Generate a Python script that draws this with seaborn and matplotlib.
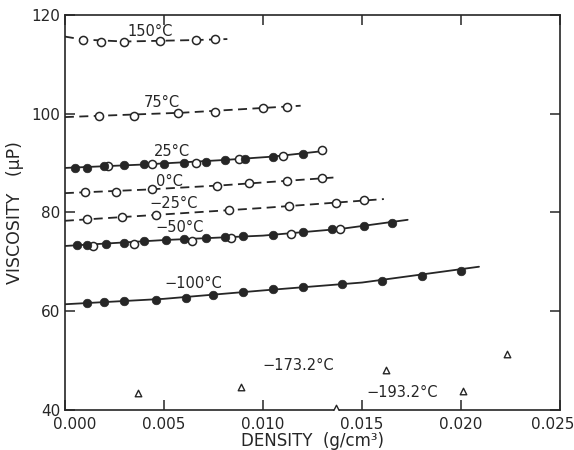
import numpy as np
import pandas as pd
import seaborn as sns
import matplotlib.pyplot as plt
import matplotlib.transforms as mtransforms

# values (density in g/cm3, viscosity in microP)
t150_x = [0.0009, 0.0018, 0.0030, 0.0048, 0.0066, 0.0076]
t150_y = [115.0, 114.6, 114.5, 114.8, 114.9, 115.1]
t150_line_x = [0.0, 0.0009, 0.0030, 0.0066, 0.0082]
t150_line_y = [115.6, 115.0, 114.6, 114.9, 115.1]

t75_x = [0.0017, 0.0035, 0.0057, 0.0076, 0.0100, 0.0112]
t75_y = [99.5, 99.6, 100.1, 100.4, 101.1, 101.4]
t75_line_x = [0.0, 0.0060, 0.0119]
t75_line_y = [99.3, 100.2, 101.6]

t25_filled_x = [0.0005, 0.0011, 0.0020, 0.0030, 0.0040, 0.0050, 0.0060, 0.0071, 0.0081, 0.0091, 0.0105, 0.0120]
t25_filled_y = [89.0, 89.0, 89.4, 89.6, 89.8, 89.9, 90.1, 90.3, 90.6, 90.8, 91.3, 91.8]
t25_open_x = [0.0022, 0.0044, 0.0066, 0.0088, 0.0110, 0.0130]
t25_open_y = [89.4, 89.8, 90.1, 90.8, 91.5, 92.6]
t25_line_x = [0.0, 0.0040, 0.0080, 0.0105, 0.0130]
t25_line_y = [89.0, 89.7, 90.6, 91.3, 92.4]

t0_x = [0.0010, 0.0026, 0.0044, 0.0077, 0.0093, 0.0112, 0.0130]
t0_y = [84.1, 84.2, 84.7, 85.4, 85.9, 86.4, 87.0]
t0_line_x = [0.0, 0.0040, 0.0080, 0.0137]
t0_line_y = [83.9, 84.6, 85.5, 87.1]

tm25_x = [0.0011, 0.0029, 0.0046, 0.0083, 0.0113, 0.0137, 0.0151]
tm25_y = [78.6, 79.0, 79.5, 80.5, 81.2, 82.0, 82.5]
tm25_line_x = [0.0, 0.0050, 0.0100, 0.0161]
tm25_line_y = [78.3, 79.6, 80.9, 82.7]

tm50_filled_x = [0.0006, 0.0011, 0.0021, 0.0030, 0.0040, 0.0051, 0.0060, 0.0071, 0.0081, 0.0090,
                 0.0105, 0.0120, 0.0135, 0.0151, 0.0165]
tm50_filled_y = [73.4, 73.5, 73.7, 73.9, 74.2, 74.5, 74.7, 74.9, 75.1, 75.2,
                 75.4, 76.0, 76.6, 77.2, 77.9]
tm50_open_x = [0.0014, 0.0035, 0.0064, 0.0084, 0.0114, 0.0139]
tm50_open_y = [73.1, 73.7, 74.2, 74.8, 75.6, 76.6]
tm50_line_x = [0.0, 0.0050, 0.0100, 0.0140, 0.0173]
tm50_line_y = [73.2, 74.4, 75.3, 76.7, 78.5]

tm100_x = [0.0011, 0.0020, 0.0030, 0.0046, 0.0061, 0.0075, 0.0090, 0.0105, 0.0120,
           0.0140, 0.0160, 0.0180, 0.0200]
tm100_y = [61.6, 61.8, 62.1, 62.3, 62.7, 63.3, 63.9, 64.4, 64.9,
           65.5, 66.2, 67.2, 68.2]
tm100_line_x = [0.0, 0.0050, 0.0100, 0.0150, 0.0209]
tm100_line_y = [61.4, 62.5, 64.2, 65.8, 69.0]

tm173_x = [0.0037, 0.0089, 0.0162, 0.0223]
tm173_y = [43.5, 44.6, 48.1, 51.3]
tm193_x = [0.0137, 0.0201]
tm193_y = [40.3, 43.8]

labels = ['150°C', '75°C', '25°C', '0°C', '\u221225°C', '\u221250°C', '\u2212100°C', '\u2212173.2°C', '\u2212193.2°C']
label_x = [0.0043, 0.0049, 0.0054, 0.0053, 0.0055, 0.0058, 0.0065, 0.0118, 0.0170]
label_y = [116.6, 102.2, 92.3, 86.3, 81.9, 76.9, 65.7, 49.1, 43.6]

x_ticks = [0.0, 0.005, 0.010, 0.015, 0.020, 0.025]
x_ticklabels = ['0.000', '0.005', '0.010', '0.015', '0.020', '0.025']
y_ticks = [40, 60, 80, 100, 120]

ink = '#262626'

sns.set_style('ticks')
plt.rcParams['font.family'] = ['DejaVu Sans']

fig = plt.figure(figsize=(5.74, 4.5), dpi=100)
ax = fig.add_axes([0.113, 0.089, 0.863, 0.878])

# fitted curves
curves = [
    (t150_line_x, t150_line_y, (5, 3)),
    (t75_line_x, t75_line_y, (5, 3)),
    (t25_line_x, t25_line_y, ''),
    (t0_line_x, t0_line_y, (5, 3)),
    (tm25_line_x, tm25_line_y, (5, 3)),
    (tm50_line_x, tm50_line_y, ''),
    (tm100_line_x, tm100_line_y, ''),
]
for cx, cy, dash in curves:
    line = sns.lineplot(x=cx, y=cy, ax=ax, color=ink, lw=1.3, sort=False, estimator=None)
    if dash:
        line.lines[-1].set_dashes(dash)

# open circles
for ox, oy in [(t150_x, t150_y), (t75_x, t75_y), (t25_open_x, t25_open_y),
               (t0_x, t0_y), (tm25_x, tm25_y), (tm50_open_x, tm50_open_y)]:
    sns.scatterplot(x=ox, y=oy, ax=ax, marker='o', s=34, facecolor='white',
                    edgecolor=ink, linewidth=1.1, zorder=3)

# filled circles
for fx, fy in [(t25_filled_x, t25_filled_y), (tm50_filled_x, tm50_filled_y), (tm100_x, tm100_y)]:
    sns.scatterplot(x=fx, y=fy, ax=ax, marker='o', s=38, color=ink,
                    edgecolor=ink, linewidth=0.5, zorder=4)

# triangles
for tx, ty in [(tm173_x, tm173_y), (tm193_x, tm193_y)]:
    sns.scatterplot(x=tx, y=ty, ax=ax, marker='^', s=22, facecolor='white',
                    edgecolor=ink, linewidth=1.0, zorder=3)

for txt, lx, ly in zip(labels, label_x, label_y):
    ax.text(lx, ly, txt, fontsize=10.5, color=ink, ha='center', va='center')

ax.set_xlim(0, 0.025)
ax.set_ylim(40, 120)
ax.set_xticks(x_ticks)
ax.set_xticklabels(x_ticklabels)
ax.set_yticks(y_ticks)
ax.tick_params(direction='in', length=7, width=1.1, colors=ink, labelsize=11,
               top=True, right=True)
ax.tick_params(axis='x', pad=5)
for sp in ax.spines.values():
    sp.set_visible(True)
    sp.set_color(ink)
    sp.set_linewidth(1.2)

# end labels sit a little inside the frame, as in the scan
tls = ax.get_xticklabels()
tls[0].set_transform(tls[0].get_transform() + mtransforms.ScaledTranslation(10 / 100, 0, fig.dpi_scale_trans))
tls[-1].set_transform(tls[-1].get_transform() + mtransforms.ScaledTranslation(-8 / 100, 0, fig.dpi_scale_trans))

ax.set_xlabel('DENSITY  (g/cm\u00b3)', fontsize=12, color=ink, labelpad=0)
ax.set_ylabel('VISCOSITY   (\u03bcP)', fontsize=12.5, color=ink, labelpad=5)

fig.savefig('out.png', dpi=100, facecolor='white')
